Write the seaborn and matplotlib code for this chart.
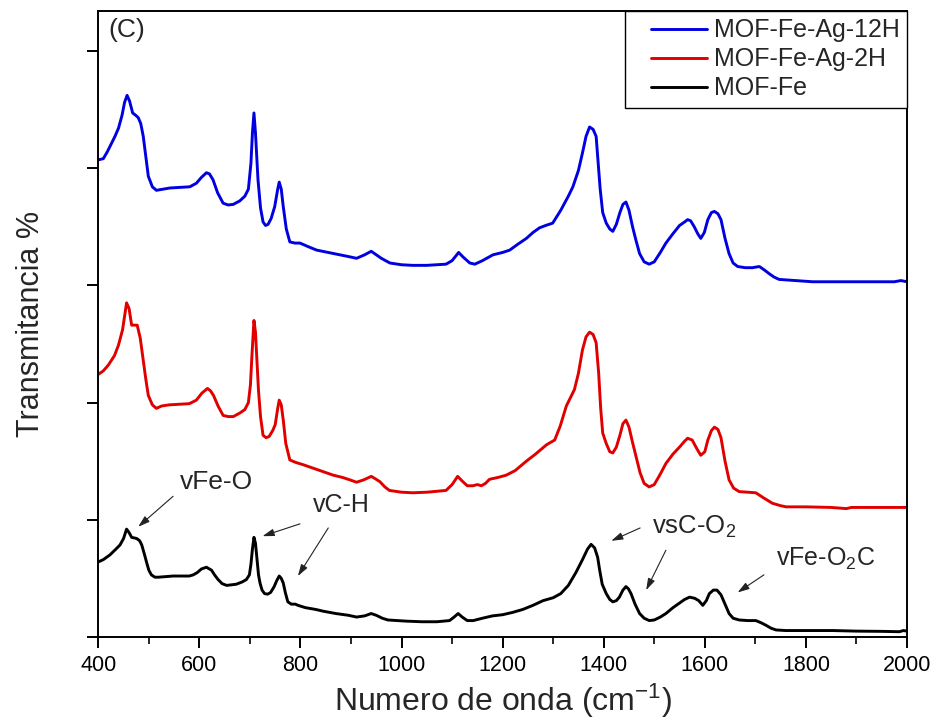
import matplotlib
matplotlib.use("Agg")
import matplotlib.pyplot as plt
from matplotlib.lines import Line2D
from matplotlib.ticker import MultipleLocator
import numpy as np
import pandas as pd
import seaborn as sns

# ---------------- data ----------------
series_names = ["MOF-Fe-Ag-12H", "MOF-Fe-Ag-2H", "MOF-Fe"]
series_colors = ["#0000E0", "#E00000", "#000000"]

wn_fe = [400, 410, 423, 435, 443, 450, 456, 461, 466, 476, 482, 486, 491, 496, 500, 505, 512, 519,
         535, 548, 565, 580, 588, 596, 604, 614, 624, 630, 637, 645, 654, 663, 673, 685, 693, 699,
         702, 705, 708, 711, 714, 717, 720, 724, 729, 735, 741, 748, 753, 758, 762, 766, 770, 775,
         782, 790, 795, 810, 830, 845, 870, 895, 911, 927, 940, 950, 962, 973, 990, 1010, 1040,
         1070, 1095, 1104, 1112, 1120, 1130, 1142, 1160, 1180, 1200, 1220, 1240, 1260, 1280, 1300,
         1315, 1330, 1345, 1358, 1368, 1375, 1382, 1388, 1392, 1397, 1405, 1412, 1418, 1425, 1431,
         1438, 1444, 1449, 1454, 1462, 1471, 1480, 1490, 1500, 1512, 1523, 1537, 1550, 1560, 1570,
         1580, 1588, 1596, 1603, 1609, 1617, 1624, 1632, 1640, 1648, 1656, 1668, 1685, 1701, 1712,
         1721, 1731, 1741, 1760, 1800, 1853, 1900, 1950, 1985, 1993, 2000]
tr_fe = [0.64, 0.66, 0.70, 0.75, 0.785, 0.84, 0.92, 0.89, 0.85, 0.84, 0.82, 0.785, 0.71, 0.63, 0.57,
         0.53, 0.51, 0.51, 0.515, 0.52, 0.52, 0.52, 0.53, 0.55, 0.58, 0.595, 0.57, 0.53, 0.49, 0.455,
         0.44, 0.445, 0.45, 0.47, 0.49, 0.53, 0.62, 0.75, 0.85, 0.80, 0.66, 0.53, 0.46, 0.40, 0.37,
         0.365, 0.38, 0.43, 0.48, 0.52, 0.50, 0.46, 0.38, 0.30, 0.28, 0.28, 0.27, 0.25, 0.235, 0.22,
         0.20, 0.185, 0.17, 0.18, 0.20, 0.185, 0.16, 0.145, 0.14, 0.135, 0.13, 0.13, 0.14, 0.17,
         0.20, 0.17, 0.14, 0.14, 0.16, 0.18, 0.19, 0.21, 0.235, 0.27, 0.31, 0.335, 0.37, 0.44, 0.55,
         0.66, 0.75, 0.79, 0.76, 0.68, 0.57, 0.45, 0.37, 0.32, 0.30, 0.31, 0.34, 0.40, 0.43, 0.41,
         0.37, 0.28, 0.20, 0.16, 0.14, 0.145, 0.17, 0.20, 0.25, 0.29, 0.32, 0.34, 0.33, 0.31, 0.27,
         0.31, 0.37, 0.40, 0.40, 0.36, 0.28, 0.20, 0.16, 0.145, 0.14, 0.14, 0.12, 0.10, 0.075, 0.06,
         0.055, 0.055, 0.055, 0.05, 0.048, 0.045, 0.055, 0.05]

wn_2h = [400, 410, 420, 432, 440, 448, 456, 461, 466, 472, 477, 483, 489, 494, 499, 507, 515, 525,
         540, 560, 580, 594, 605, 616, 622, 628, 637, 647, 657, 667, 680, 690, 697, 701, 704, 708,
         711, 714, 717, 721, 726, 732, 738, 745, 750, 755, 758, 762, 766, 771, 779, 790, 805, 825,
         845, 865, 884, 898, 911, 925, 940, 948, 957, 967, 976, 1000, 1022, 1050, 1088, 1100, 1111,
         1120, 1130, 1141, 1150, 1158, 1166, 1174, 1190, 1207, 1225, 1247, 1265, 1287, 1303, 1314,
         1326, 1342, 1350, 1358, 1365, 1372, 1379, 1385, 1390, 1394, 1398, 1405, 1412, 1418, 1425,
         1432, 1438, 1444, 1450, 1457, 1464, 1472, 1480, 1490, 1500, 1512, 1523, 1537, 1550, 1560,
         1566, 1575, 1585, 1592, 1600, 1606, 1613, 1619, 1626, 1632, 1640, 1648, 1657, 1668, 1685,
         1701, 1715, 1734, 1750, 1761, 1800, 1850, 1880, 1890, 1950, 2000]
tr_2h = [2.24, 2.27, 2.32, 2.40, 2.49, 2.62, 2.85, 2.80, 2.66, 2.66, 2.66, 2.55, 2.36, 2.20, 2.06,
         1.98, 1.95, 1.97, 1.98, 1.985, 1.99, 2.02, 2.08, 2.12, 2.10, 2.06, 1.97, 1.89, 1.88, 1.88,
         1.91, 1.94, 2.00, 2.15, 2.40, 2.70, 2.60, 2.35, 2.10, 1.88, 1.72, 1.70, 1.71, 1.76, 1.81,
         1.95, 2.02, 1.98, 1.85, 1.65, 1.51, 1.49, 1.47, 1.44, 1.41, 1.38, 1.36, 1.34, 1.32, 1.34,
         1.37, 1.35, 1.325, 1.28, 1.25, 1.235, 1.23, 1.235, 1.25, 1.30, 1.37, 1.33, 1.29, 1.29, 1.30,
         1.29, 1.31, 1.345, 1.36, 1.38, 1.42, 1.50, 1.56, 1.64, 1.68, 1.80, 1.97, 2.11, 2.25, 2.45,
         2.56, 2.60, 2.58, 2.51, 2.25, 1.95, 1.74, 1.65, 1.58, 1.57, 1.62, 1.72, 1.82, 1.85, 1.79,
         1.66, 1.54, 1.40, 1.31, 1.28, 1.30, 1.39, 1.48, 1.56, 1.62, 1.67, 1.695, 1.68, 1.60, 1.55,
         1.58, 1.68, 1.76, 1.79, 1.77, 1.70, 1.50, 1.34, 1.27, 1.24, 1.235, 1.23, 1.19, 1.14, 1.12,
         1.11, 1.11, 1.105, 1.095, 1.105, 1.105, 1.105]

wn_12h = [400, 410, 418, 426, 433, 440, 447, 452, 457, 462, 468, 474, 479, 484, 489, 494, 499, 507,
          515, 528, 542, 560, 581, 594, 604, 614, 620, 627, 636, 647, 657, 667, 680, 690, 697, 702,
          705, 708, 711, 716, 721, 726, 731, 736, 742, 749, 755, 758, 762, 766, 772, 779, 789, 799,
          815, 832, 855, 878, 895, 911, 927, 940, 950, 960, 977, 1000, 1022, 1050, 1088, 1100, 1113,
          1122, 1135, 1145, 1160, 1181, 1200, 1214, 1230, 1247, 1260, 1273, 1285, 1299, 1315, 1330,
          1339, 1350, 1358, 1365, 1372, 1379, 1385, 1389, 1393, 1398, 1405, 1412, 1418, 1425, 1432,
          1438, 1444, 1450, 1457, 1464, 1471, 1480, 1490, 1500, 1512, 1523, 1537, 1550, 1560, 1566,
          1572, 1579, 1586, 1592, 1599, 1606, 1613, 1619, 1626, 1632, 1640, 1648, 1656, 1665, 1680,
          1694, 1708, 1718, 1727, 1737, 1747, 1780, 1813, 1880, 1945, 1975, 1988, 2000]
tr_12h = [4.07, 4.08, 4.14, 4.21, 4.27, 4.34, 4.45, 4.56, 4.62, 4.57, 4.47, 4.45, 4.43, 4.38, 4.27,
          4.10, 3.93, 3.84, 3.81, 3.82, 3.83, 3.835, 3.84, 3.87, 3.92, 3.96, 3.95, 3.90, 3.79, 3.70,
          3.685, 3.69, 3.72, 3.76, 3.82, 4.04, 4.30, 4.47, 4.30, 3.90, 3.66, 3.54, 3.51, 3.52, 3.57,
          3.67, 3.82, 3.88, 3.82, 3.67, 3.48, 3.37, 3.36, 3.36, 3.33, 3.30, 3.28, 3.26, 3.245, 3.23,
          3.26, 3.29, 3.26, 3.23, 3.19, 3.175, 3.17, 3.17, 3.18, 3.21, 3.28, 3.24, 3.19, 3.18, 3.21,
          3.26, 3.28, 3.30, 3.35, 3.40, 3.45, 3.49, 3.51, 3.53, 3.64, 3.76, 3.84, 3.98, 4.13, 4.27,
          4.35, 4.33, 4.27, 4.05, 3.82, 3.62, 3.53, 3.48, 3.46, 3.52, 3.62, 3.69, 3.71, 3.64, 3.50,
          3.38, 3.27, 3.20, 3.18, 3.20, 3.28, 3.36, 3.44, 3.51, 3.54, 3.56, 3.55, 3.50, 3.44, 3.40,
          3.45, 3.56, 3.62, 3.63, 3.61, 3.56, 3.40, 3.27, 3.19, 3.16, 3.15, 3.15, 3.16, 3.13, 3.10,
          3.07, 3.05, 3.04, 3.03, 3.03, 3.03, 3.03, 3.04, 3.03]

x_ticks = [400, 600, 800, 1000, 1200, 1400, 1600, 1800, 2000]
x_label = "Numero de onda (cm$^{-1}$)"
y_label = "Transmitancia %"
panel_label = "(C)"

# annotations: text, text position, font size, list of (arrow start, arrow end)
annot_texts = ["vFe-O", "vC-H", "vsC-O$_2$", "vFe-O$_2$C"]
annot_pos = [(561, 1.32), (824, 1.13), (1496, 0.94), (1741, 0.67)]
annot_sizes = [19, 18, 18.5, 18]
annot_arrows = [
    [((548, 1.20), (479, 0.94))],
    [((799, 0.965), (725, 0.86)), ((855, 0.93), (795, 0.52))],
    [((1472, 0.93), (1415, 0.82)), ((1523, 0.74), (1484, 0.40))],
    [((1717, 0.53), (1665, 0.38))],
]

# ---------------- build long-form table ----------------
frames = []
for name, wn, tr in [("MOF-Fe-Ag-12H", wn_12h, tr_12h),
                     ("MOF-Fe-Ag-2H", wn_2h, tr_2h),
                     ("MOF-Fe", wn_fe, tr_fe)]:
    frames.append(pd.DataFrame({"wn": wn, "tr": tr, "serie": name}))
df = pd.concat(frames, ignore_index=True)

# ---------------- style ----------------
sns.set_style("ticks")
plt.rcParams["font.family"] = ["Liberation Sans", "DejaVu Sans"]
plt.rcParams["mathtext.fontset"] = "custom"
plt.rcParams["mathtext.rm"] = "Liberation Sans"
plt.rcParams["mathtext.it"] = "Liberation Sans:italic"
plt.rcParams["mathtext.bf"] = "Liberation Sans:bold"

fig = plt.figure(figsize=(9.36, 7.25), dpi=100)
ax = fig.add_axes([0.105, 0.1214, 0.864, 0.8635])

palette = dict(zip(series_names, series_colors))
sns.lineplot(data=df, x="wn", y="tr", hue="serie", hue_order=series_names,
             palette=palette, estimator=None, sort=False, lw=2.1, ax=ax, legend=False)

ax.set_xlim(400, 2000)
ax.set_ylim(0, 5.34)
ax.set_xticks(x_ticks)
ax.set_xticklabels([str(t) for t in x_ticks], fontsize=15.5)
ax.xaxis.set_minor_locator(MultipleLocator(100))
ax.set_yticks([0, 1, 2, 3, 4, 5])
ax.set_yticklabels([])
ax.tick_params(axis="both", which="major", direction="out", length=8, width=1.4,
               colors="black", top=False, right=False, pad=5)
ax.tick_params(axis="x", which="minor", direction="out", length=4.7, width=1.4, top=False)
for sp in ax.spines.values():
    sp.set_visible(True)
    sp.set_linewidth(1.4)
    sp.set_color("black")

ax.set_xlabel(x_label, fontsize=23, labelpad=4)
ax.set_ylabel(y_label, fontsize=22)
ax.yaxis.set_label_coords(-0.065, 0.5)

ax.text(419, 5.18, panel_label, fontsize=19, ha="left", va="center")

for txt, pos, fs, arrows in zip(annot_texts, annot_pos, annot_sizes, annot_arrows):
    ax.text(pos[0], pos[1], txt, fontsize=fs, ha="left", va="center")
    for start, end in arrows:
        ax.annotate("", xy=end, xytext=start,
                    arrowprops=dict(arrowstyle="-|>,head_length=0.7,head_width=0.22",
                                    color="#222222", lw=0.8, shrinkA=0, shrinkB=0))

handles = [Line2D([], [], color=c, lw=2.1) for c in series_colors]
leg = ax.legend(handles, series_names, loc="upper right", bbox_to_anchor=(1.0, 1.0),
                borderaxespad=0.0, fontsize=18, frameon=True, fancybox=False,
                edgecolor="black", framealpha=1.0, handlelength=3.0,
                handletextpad=0.25, labelspacing=0.2, borderpad=0.3)
leg.get_frame().set_linewidth(1.0)
for ln in leg.get_lines():
    xd = np.asarray(ln.get_xdata(), dtype=float)
    x0, x1 = xd.min(), xd.max()
    ln.set_xdata(np.linspace(x0 + 0.25 * (x1 - x0), x1, len(xd)))

fig.savefig("out.png", dpi=100)
